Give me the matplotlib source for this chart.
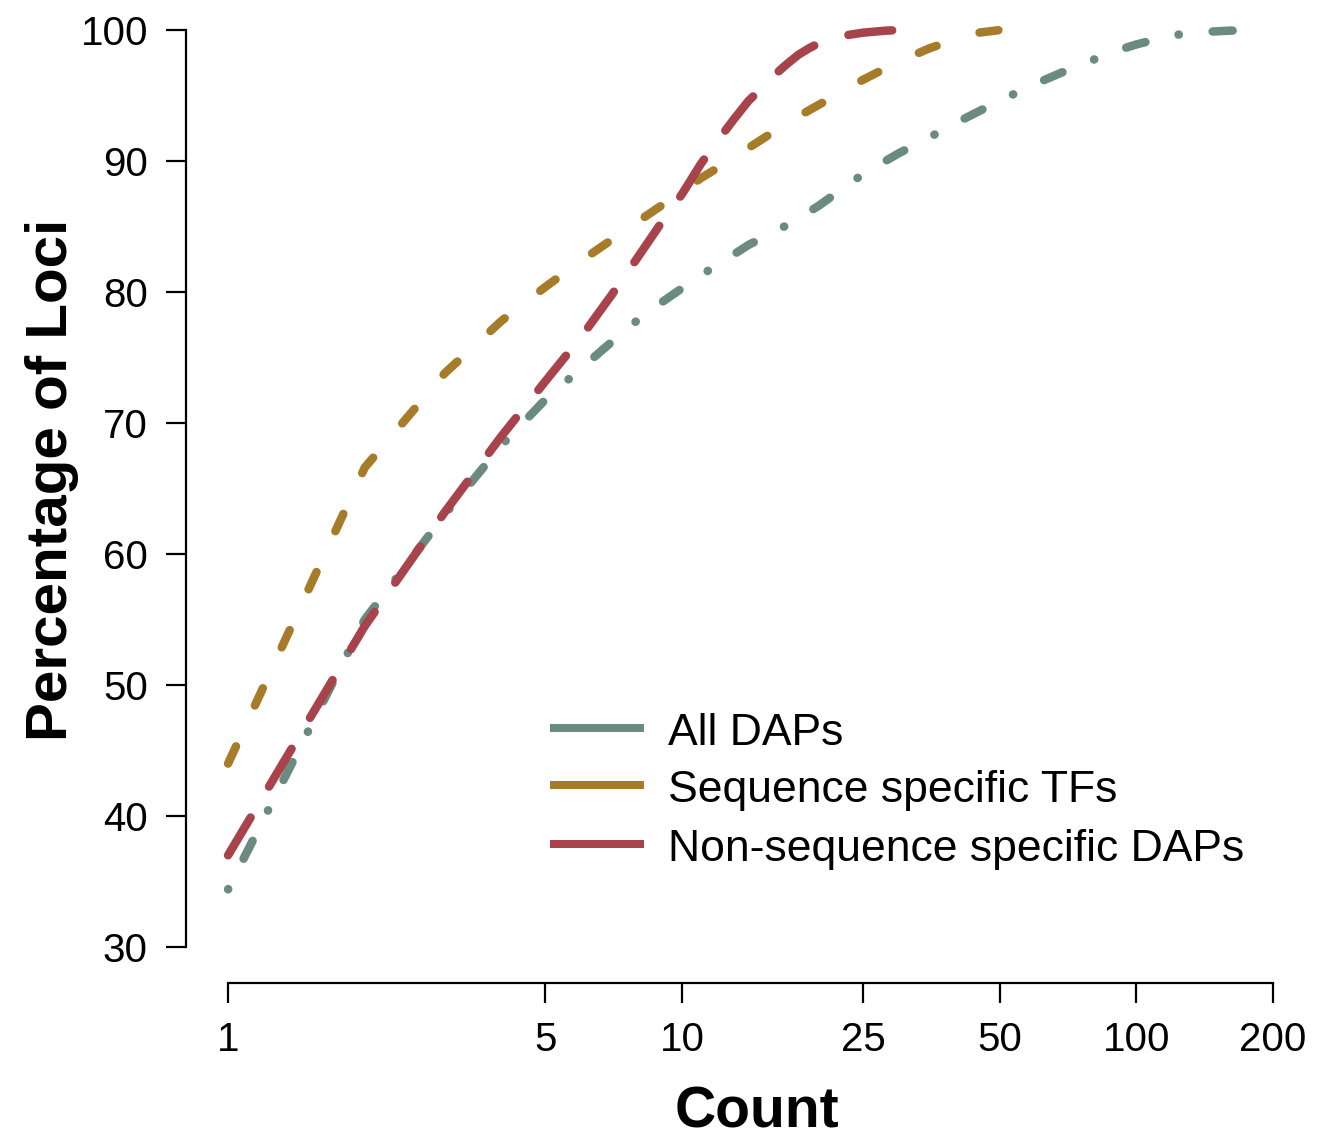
import matplotlib
matplotlib.use("Agg")
import matplotlib.pyplot as plt
from matplotlib.lines import Line2D

plt.rcParams['font.family'] = ['Liberation Sans', 'DejaVu Sans']
plt.rcParams['lines.scale_dashes'] = False

# ====== DATA (cumulative % of loci vs count) ======
all_counts = [1, 2, 3, 4, 5, 6, 7, 8, 9, 10, 11, 12, 14, 16, 18, 20, 25, 30, 35,
              40, 50, 60, 70, 80, 90, 100, 120, 140, 160, 180]
all_pct = [34.4, 55.0, 63.0, 68.3, 71.8, 74.2, 76.2, 77.9, 79.2, 80.3, 81.3, 82.1,
           83.6, 84.6, 85.6, 86.6, 89.0, 90.6, 91.8, 92.9, 94.6, 95.9, 96.9, 97.7,
           98.4, 98.9, 99.6, 99.85, 99.95, 100.0]

tf_counts = [1, 2, 3, 4, 5, 6, 7, 8, 9, 10, 11, 12, 14, 16, 18, 20, 25, 30, 35,
             40, 45, 50]
tf_pct = [44.0, 66.6, 73.8, 77.8, 80.4, 82.4, 84.0, 85.4, 86.6, 87.7, 88.7, 89.5,
          91.0, 92.3, 93.4, 94.3, 96.2, 97.6, 98.6, 99.3, 99.8, 100.0]

nonseq_counts = [1, 2, 3, 4, 5, 6, 7, 8, 9, 10, 11, 12, 13, 14, 15, 16, 17, 18,
                 19, 20, 22, 25, 28, 30]
nonseq_pct = [37.0, 54.5, 63.2, 69.0, 73.2, 76.6, 79.8, 82.7, 85.3, 87.5, 89.8,
              91.6, 93.2, 94.6, 95.6, 96.6, 97.4, 98.1, 98.6, 99.0, 99.5, 99.8,
              99.95, 100.0]

labels = ["All DAPs", "Sequence specific TFs", "Non-sequence specific DAPs"]
colors = ["#6b8b80", "#a67c2a", "#a8434b"]

x_ticks = [1, 5, 10, 25, 50, 100, 200]
y_ticks = [30, 40, 50, 60, 70, 80, 90, 100]

# ====== FIGURE ======
W, H = 1317, 1142
fig = plt.figure(figsize=(W / 100, H / 100), dpi=100)
ax = fig.add_axes([186 / W, 1 - 983 / H, (1290 - 186) / W, (983 - 10) / H])

px = 0.72  # points per pixel at 100 dpi
lw = 8.5 * px

ax.plot(all_counts, all_pct, color=colors[0], lw=lw, dash_capstyle='round',
        dashes=(0.3 * px, 34 * px, 20 * px, 34 * px))
ax.plot(tf_counts, tf_pct, color=colors[1], lw=lw, dash_capstyle='round',
        dashes=(19 * px, 45 * px))
ax.plot(nonseq_counts, nonseq_pct, color=colors[2], lw=lw, dash_capstyle='round',
        dashes=(44 * px, 36 * px))

ax.set_xscale('log')
ax.set_xlim(0.808, 217.9)
ax.set_ylim(27.25, 101.53)

ax.set_xticks(x_ticks)
ax.set_xticklabels([str(t) for t in x_ticks])
ax.xaxis.set_minor_locator(matplotlib.ticker.NullLocator())
ax.set_yticks(y_ticks)

for s in ['top', 'right']:
    ax.spines[s].set_visible(False)
ax.spines['left'].set_bounds(30, 100)
ax.spines['bottom'].set_bounds(1, 200)
ax.spines['left'].set_linewidth(1.6)
ax.spines['bottom'].set_linewidth(1.6)
ax.tick_params(axis='both', length=20 * px, width=1.6, labelsize=29, pad=13,
               direction='out')

fig.text(52 / W, 1 - 480 / H, "Percentage of Loci", rotation=90, fontsize=42,
         fontweight='bold', ha='center', va='center')
fig.text(757 / W, 1 - 1112 / H, "Count", fontsize=41, fontweight='bold',
         ha='center', va='center')

# ====== LEGEND ======
for i, (lab, col) in enumerate(zip(labels, colors)):
    ly = [728, 785, 844][i]
    yy = 1 - ly / H
    fig.add_artist(Line2D([550 / W, 644 / W], [yy, yy], color=col, lw=8 * px,
                          solid_capstyle='butt'))
    fig.text(668 / W, 1 - (ly + 17) / H, lab, fontsize=32, ha='left',
             va='baseline')

plt.savefig("out.png", dpi=100)
